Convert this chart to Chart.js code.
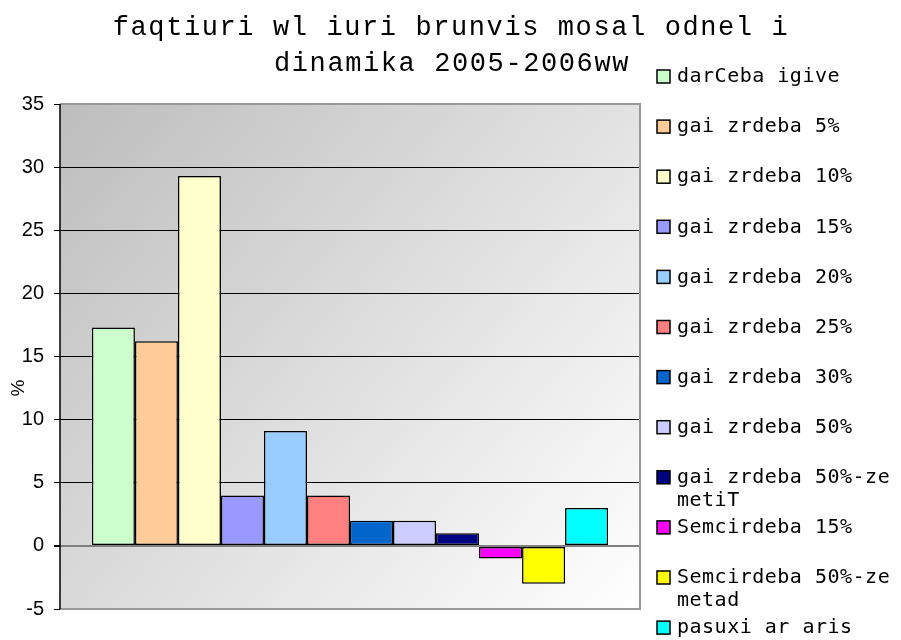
<!DOCTYPE html>
<html>
<head>
<meta charset="utf-8">
<script src="https://cdn.jsdelivr.net/npm/chart.js@4/dist/chart.umd.min.js"></script>
<style>
  html, body { margin: 0; padding: 0; background: #fff; }
  #wrap { position: relative; width: 901px; height: 640px; }
</style>
</head>
<body>
<div id="wrap"><canvas id="chart"></canvas></div>
<script>
// ── data ─────────────────────────────────────────────────────────────
const TITLE = ["faqtiuri wl iuri brunvis mosal odnel i", "dinamika 2005-2006ww"];
const CATEGORIES = [""];
const SERIES = [
  ["darCeba igive"],
  ["gai zrdeba 5%"],
  ["gai zrdeba 10%"],
  ["gai zrdeba 15%"],
  ["gai zrdeba 20%"],
  ["gai zrdeba 25%"],
  ["gai zrdeba 30%"],
  ["gai zrdeba 50%"],
  ["gai zrdeba 50%-ze", "metiT"],
  ["Semcirdeba 15%"],
  ["Semcirdeba 50%-ze", "metad"],
  ["pasuxi ar aris"],
];
const VALUES = [17.3, 16.2, 29.3, 4, 9.1, 4, 2, 2, 1, -1, -3, 3];
const COLORS = [
  "#ccffcc", "#ffcc99", "#ffffcc", "#9999ff", "#99ccff", "#ff8080",
  "#0066cc", "#ccccff", "#000080", "#ff00ff", "#ffff00", "#00ffff",
];
const Y_MIN = -5, Y_MAX = 35, Y_STEP = 5;
const Y_TITLE = "%";

// ── plugins ──────────────────────────────────────────────────────────
const plotBg = {
  id: "plotBg",
  beforeDraw(chart) {
    const { ctx, chartArea: a } = chart;
    const g = ctx.createLinearGradient(a.left, a.top, a.right, a.bottom);
    g.addColorStop(0, "#bdbdbd");
    g.addColorStop(1, "#ffffff");
    ctx.save();
    ctx.fillStyle = g;
    ctx.fillRect(a.left, a.top, a.right - a.left, a.bottom - a.top);
    ctx.restore();
  },
  afterDraw(chart) {
    const { ctx, chartArea: a } = chart;
    ctx.save();
    ctx.strokeStyle = "#999999";
    ctx.lineWidth = 2;
    ctx.beginPath();
    ctx.moveTo(a.left, a.top);
    ctx.lineTo(a.right, a.top);
    ctx.lineTo(a.right, a.bottom);
    ctx.lineTo(a.left, a.bottom);
    ctx.stroke();
    ctx.strokeStyle = "#000";
    ctx.lineWidth = 1.5;
    ctx.beginPath();
    ctx.moveTo(a.left, a.top);
    ctx.lineTo(a.left, a.bottom);
    ctx.stroke();
    ctx.restore();
  },
};

// title, axis title and legend drawn by hand (letter spacing, two-line labels)
const textBits = {
  id: "textBits",
  afterDraw(chart) {
    const { ctx } = chart;
    ctx.save();
    ctx.fillStyle = "#000";
    ctx.textBaseline = "middle";

    ctx.font = "27px 'Liberation Mono', 'DejaVu Sans Mono', monospace";
    ctx.letterSpacing = "1.6px";
    ctx.textAlign = "center";
    ctx.fillText(TITLE[0], 451, 28);
    ctx.fillText(TITLE[1], 452, 64);

    ctx.save();
    ctx.letterSpacing = "0px";
    ctx.font = "19px 'Liberation Sans Narrow', 'Liberation Sans', sans-serif";
    ctx.translate(19, 388);
    ctx.rotate(-Math.PI / 2);
    ctx.fillText(Y_TITLE, 0, 0);
    ctx.restore();

    ctx.font = "20px 'DejaVu Sans Mono', monospace";
    ctx.letterSpacing = "0.5px";
    ctx.textAlign = "left";
    chart.data.datasets.forEach((ds, i) => {
      const y = 77 + i * 50.1;
      ctx.fillStyle = ds.backgroundColor;
      ctx.fillRect(657, y - 7, 13, 13);
      ctx.strokeStyle = "#000";
      ctx.lineWidth = 1.5;
      ctx.strokeRect(657, y - 7, 13, 13);
      ctx.fillStyle = "#000";
      SERIES[i].forEach((line, k) => {
        ctx.fillText(line, 677, y + k * 23);
      });
    });
    ctx.restore();
  },
};

// ── chart ────────────────────────────────────────────────────────────
const TICK_FONT = { family: "'Liberation Sans Narrow', 'Liberation Sans', sans-serif", size: 20 };

new Chart(document.getElementById("chart"), {
  type: "bar",
  data: {
    labels: CATEGORIES,
    datasets: SERIES.map((s, i) => ({
      label: s.join(" "),
      data: [VALUES[i]],
      backgroundColor: COLORS[i],
      borderColor: "#000",
      borderWidth: 1.5,
      borderSkipped: false,
      barPercentage: 1,
      categoryPercentage: 0.89,
    })),
  },
  options: {
    responsive: true,
    maintainAspectRatio: false,
    animation: false,
    layout: { padding: { left: 0, right: 261, top: 104, bottom: 31 } },
    plugins: {
      legend: { display: false },
      title: { display: false },
      tooltip: { enabled: false },
    },
    scales: {
      x: { display: false },
      y: {
        min: Y_MIN,
        max: Y_MAX,
        afterFit: (s) => { s.width = 60; },
        border: { display: false },
        grid: {
          color: (c) => (c.tick && (c.tick.value === Y_MAX || c.tick.value === 0 || c.tick.value === Y_MIN) ? "#808080" : "#000"),
          lineWidth: (c) => (c.tick && c.tick.value === 0 ? 2 : 1),
          tickLength: 6,
          tickColor: "#000",
        },
        ticks: { stepSize: Y_STEP, color: "#000", font: TICK_FONT, padding: 10 },
        title: { display: false },
      },
    },
  },
  plugins: [plotBg, textBits],
});
</script>
</body>
</html>
